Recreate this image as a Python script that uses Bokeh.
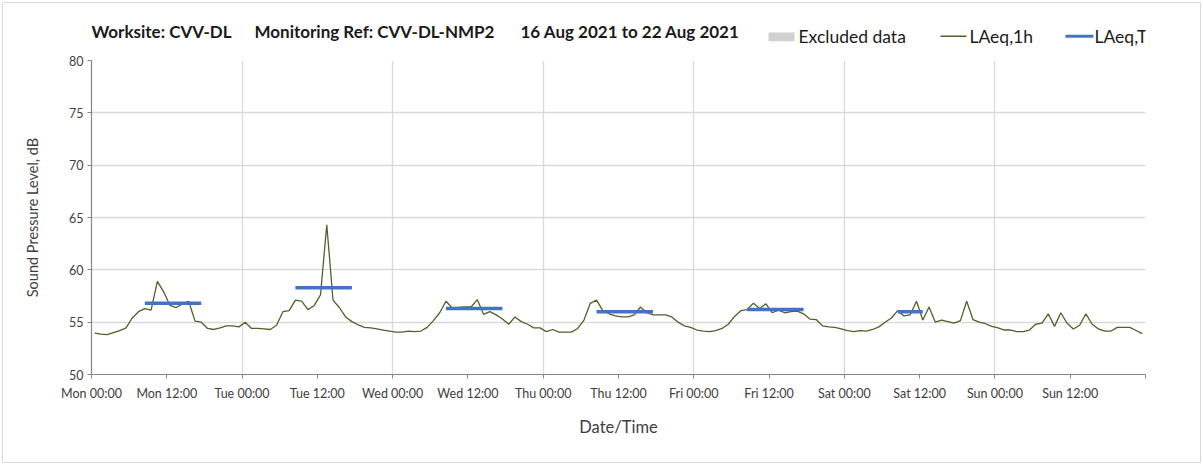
from bokeh.plotting import figure
from bokeh.layouts import column
from bokeh.models import Range1d, FixedTicker, ColumnDataSource, Label
from bokeh.embed import file_html
from bokeh.resources import INLINE

# ---------------- data ----------------
title_parts = ["Worksite: CVV-DL", "Monitoring Ref: CVV-DL-NMP2", "16 Aug 2021 to 22 Aug 2021"]
legend_labels = ["Excluded data", "LAeq,1h", "LAeq,T"]
tick_hours = list(range(0, 169, 12))
tick_labels = ["Mon 00:00", "Mon 12:00", "Tue 00:00", "Tue 12:00", "Wed 00:00", "Wed 12:00",
               "Thu 00:00", "Thu 12:00", "Fri 00:00", "Fri 12:00", "Sat 00:00", "Sat 12:00",
               "Sun 00:00", "Sun 12:00", ""]
y_ticks = [50, 55, 60, 65, 70, 75, 80]

# hourly LAeq,1h values (dB) for each day, 00:00 .. 23:00
mon = [53.95, 53.85, 53.8, 54.0, 54.2, 54.45, 55.4, 56.0, 56.3, 56.15, 58.9, 57.9,
       56.6, 56.4, 56.75, 57.0, 55.1, 55.0, 54.4, 54.3, 54.45, 54.65, 54.65, 54.55]
tue = [55.0, 54.4, 54.4, 54.35, 54.3, 54.7, 56.0, 56.1, 57.1, 57.0, 56.2, 56.6,
       57.6, 64.3, 57.1, 56.4, 55.5, 55.05, 54.75, 54.5, 54.45, 54.35, 54.25, 54.15]
wed = [54.05, 54.05, 54.15, 54.1, 54.15, 54.5, 55.15, 55.9, 57.0, 56.35, 56.4, 56.45,
       56.45, 57.15, 55.75, 56.0, 55.7, 55.3, 54.8, 55.5, 55.05, 54.8, 54.45, 54.45]
thu = [54.1, 54.3, 54.05, 54.05, 54.05, 54.4, 55.2, 56.8, 57.1, 56.1, 55.8, 55.6,
       55.5, 55.5, 55.7, 56.45, 55.9, 55.7, 55.7, 55.7, 55.5, 55.0, 54.65, 54.5]
fri = [54.25, 54.15, 54.1, 54.2, 54.4, 54.8, 55.55, 56.1, 56.2, 56.8, 56.3, 56.75,
       55.9, 56.15, 55.9, 56.0, 56.05, 55.8, 55.3, 55.25, 54.65, 54.55, 54.5, 54.35]
sat = [54.2, 54.1, 54.2, 54.15, 54.3, 54.55, 55.0, 55.4, 56.1, 55.6, 55.7, 57.0,
       55.2, 56.45, 55.0, 55.2, 55.05, 54.9, 55.15, 57.0, 55.25, 55.0, 54.85, 54.6]
sun = [54.45, 54.25, 54.25, 54.1, 54.1, 54.25, 54.8, 54.9, 55.8, 54.6, 55.9, 54.9,
       54.35, 54.7, 55.8, 54.8, 54.35, 54.15, 54.15, 54.5, 54.5, 54.5, 54.2, 53.9]

# LAeq,T period results: first hour, last hour (hour of week) and level
laeqT_first_hour = [8, 32, 56, 80, 104, 128]
laeqT_last_hour = [17, 41, 65, 89, 113, 132]
laeqT_level = [56.8, 58.3, 56.3, 56.0, 56.2, 56.0]

# ---------------- style ----------------
FONT = "Lato"
TXT = "#404040"
GREEN = "#4f6228"
BLUE = "#4472c4"
EXCL = "#d0d0d0"
LEFT, RIGHT = 91, 58
FRAME_W = 1054
HEAD_H = 48

# ---------------- header (title + legend); 1 data unit = 1 px from frame left ----------------
hdr = figure(frame_width=FRAME_W, frame_height=HEAD_H, output_backend="svg", toolbar_location=None,
             x_range=Range1d(0, FRAME_W), y_range=Range1d(0, HEAD_H),
             x_axis_location=None, y_axis_location=None,
             min_border_left=LEFT, min_border_right=RIGHT, min_border_top=0, min_border_bottom=0)
hdr.outline_line_color = None
hdr.grid.visible = False
hdr.border_fill_alpha = 0
hdr.background_fill_alpha = 0
for txt, x in zip(title_parts, [0, 163, 429]):
    hdr.add_layout(Label(x=x, y=17, text=txt, text_font=FONT, text_font_style="bold",
                         text_font_size="17px", text_color="#1a1a1a",
                         text_baseline="middle", text_align="left"))
hdr.quad(left=[677], right=[703], bottom=[7.3], top=[16], fill_color=EXCL, line_color=None)
hdr.segment(x0=[849], x1=[875], y0=[12.3], y1=[12.3], line_color=GREEN, line_width=1.5)
hdr.segment(x0=[974], x1=[1002], y0=[12.3], y1=[12.3], line_color=BLUE, line_width=3)
for txt, x in zip(legend_labels, [707, 878, 1003]):
    hdr.add_layout(Label(x=x, y=12, text=txt, text_font=FONT, text_font_size="17.5px",
                         text_color="#1a1a1a", text_baseline="middle", text_align="left"))

# ---------------- main chart ----------------
laeq_1h = mon + tue + wed + thu + fri + sat + sun
hours = [i + 0.5 for i in range(len(laeq_1h))]

p = figure(frame_width=FRAME_W, frame_height=314, output_backend="svg", toolbar_location=None,
           x_range=Range1d(0, 168), y_range=Range1d(50, 80),
           min_border_left=LEFT, min_border_right=RIGHT, min_border_top=12, min_border_bottom=91)
p.outline_line_color = None
p.border_fill_alpha = 0

p.ygrid.ticker = FixedTicker(ticks=y_ticks)
p.ygrid.grid_line_color = "#d9d9d9"
p.ygrid.grid_line_width = 1.3
p.xgrid.ticker = FixedTicker(ticks=list(range(24, 169, 24)))
p.xgrid.grid_line_color = "#d9d9d9"
p.xgrid.grid_line_width = 1.3

p.xaxis.ticker = FixedTicker(ticks=tick_hours)
p.xaxis.major_label_overrides = {h: l for h, l in zip(tick_hours, tick_labels)}
p.yaxis.ticker = FixedTicker(ticks=y_ticks)
for ax in (p.xaxis[0], p.yaxis[0]):
    ax.axis_line_color = "#868686"
    ax.axis_line_width = 1.2
    ax.major_tick_line_color = "#868686"
    ax.major_tick_out = 4
    ax.major_tick_in = 0
    ax.minor_tick_line_color = None
    ax.major_label_text_font = FONT
    ax.major_label_text_font_size = "12.5px"
    ax.major_label_text_color = TXT
    ax.axis_label_text_font = FONT
    ax.axis_label_text_font_style = "normal"
    ax.axis_label_text_color = TXT
p.xaxis.axis_label_text_font_size = "16.5px"
p.yaxis.axis_label_text_font_size = "14.5px"
p.xaxis.major_label_standoff = 7
p.yaxis.major_label_standoff = 4
p.xaxis.axis_label = "Date/Time"
p.yaxis.axis_label = "Sound Pressure Level, dB"
p.xaxis.axis_label_standoff = 13
p.yaxis.axis_label_standoff = 25

src = ColumnDataSource(dict(x=hours, y=laeq_1h))
p.line("x", "y", source=src, line_color=GREEN, line_width=1.3)
seg_src = ColumnDataSource(dict(x0=[h + 0.5 for h in laeqT_first_hour],
                                x1=[h + 0.5 for h in laeqT_last_hour],
                                y=laeqT_level))
p.segment(x0="x0", y0="y", x1="x1", y1="y", source=seg_src,
          line_color=BLUE, line_width=3.5)

layout = column(hdr, p, spacing=0,
                styles={"outline": "1px solid #d9d9d9", "outline-offset": "-3px",
                        "border-radius": "3px", "background-color": "white"})
open("out.html", "w").write(file_html(layout, INLINE))
